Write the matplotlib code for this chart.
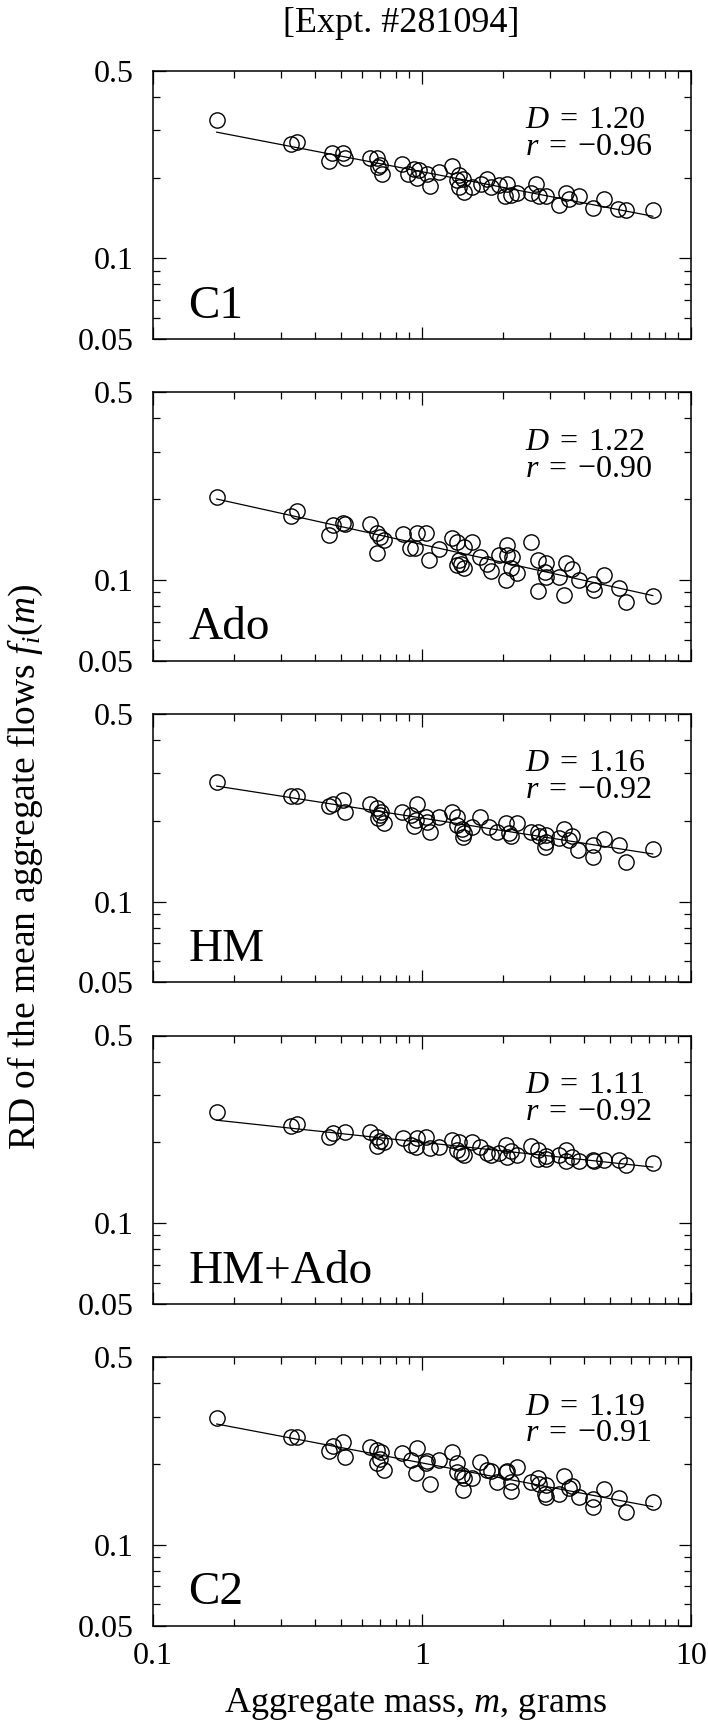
import numpy as np
import matplotlib
matplotlib.use('Agg')
import matplotlib.pyplot as plt

# Fonts: Times-like serif everywhere, italic math letters from the same family
plt.rcParams['font.family'] = ['Liberation Serif', 'DejaVu Serif']
plt.rcParams['mathtext.fontset'] = 'custom'
plt.rcParams['mathtext.rm'] = 'Liberation Serif'
plt.rcParams['mathtext.it'] = 'Liberation Serif:italic'

# ---- data (aggregate mass in grams, RD of mean flow) ----
c1_mass = [0.173, 0.327, 0.344, 0.464, 0.454, 0.510, 0.518, 0.645, 0.683, 0.699,
           0.689, 0.713, 0.846, 0.936, 0.891, 0.977, 0.962, 1.049, 1.073, 1.159,
           1.300, 1.376, 1.349, 1.428, 1.376, 1.436, 1.543, 1.657, 1.755, 1.806,
           1.940, 2.072, 2.036, 2.144, 2.270, 2.545, 2.657, 2.734, 2.895, 3.245,
           3.437, 3.536, 3.853, 4.319, 4.774, 5.353, 5.748, 7.228]
c1_rd = [0.328, 0.266, 0.272, 0.246, 0.231, 0.246, 0.236, 0.236, 0.236, 0.223,
         0.218, 0.207, 0.225, 0.216, 0.206, 0.213, 0.200, 0.206, 0.186, 0.210,
         0.221, 0.204, 0.195, 0.197, 0.185, 0.177, 0.185, 0.190, 0.197, 0.185,
         0.188, 0.190, 0.170, 0.172, 0.175, 0.175, 0.190, 0.170, 0.170, 0.158,
         0.175, 0.167, 0.170, 0.154, 0.167, 0.153, 0.151, 0.151]

ado_mass = [0.173, 0.327, 0.344, 0.468, 0.454, 0.510, 0.518, 0.645, 0.683, 0.701,
            0.723, 0.680, 0.851, 0.905, 0.948, 0.962, 1.034, 1.065, 1.159, 1.300,
            1.357, 1.436, 1.543, 1.376, 1.396, 1.357, 1.440, 1.648, 1.755, 1.806,
            1.940, 2.072, 2.072, 2.175, 2.144, 2.270, 2.054, 2.545, 2.695, 2.895,
            2.870, 2.895, 2.695, 3.245, 3.437, 3.608, 3.388, 3.853, 4.319, 4.380,
            4.774, 5.430, 5.748, 7.228]
ado_rd = [0.204, 0.173, 0.180, 0.160, 0.147, 0.163, 0.162, 0.161, 0.149, 0.145,
          0.141, 0.126, 0.148, 0.132, 0.131, 0.149, 0.150, 0.119, 0.130, 0.143,
          0.139, 0.133, 0.139, 0.119, 0.115, 0.114, 0.111, 0.122, 0.115, 0.108,
          0.124, 0.135, 0.124, 0.122, 0.111, 0.106, 0.100, 0.139, 0.119, 0.116,
          0.107, 0.103, 0.091, 0.103, 0.116, 0.110, 0.088, 0.100, 0.097, 0.092,
          0.104, 0.093, 0.083, 0.087]

hm_mass = [0.173, 0.327, 0.344, 0.454, 0.468, 0.510, 0.518, 0.645, 0.683, 0.699,
           0.703, 0.689, 0.723, 0.846, 0.909, 0.962, 0.949, 0.936, 1.034, 1.049,
           1.073, 1.159, 1.300, 1.357, 1.349, 1.416, 1.436, 1.428, 1.543, 1.648,
           1.780, 1.912, 2.054, 2.113, 2.144, 2.270, 2.545, 2.695, 2.734, 2.895,
           2.895, 2.870, 3.245, 3.388, 3.536, 3.608, 3.798, 4.319, 4.319, 4.774,
           5.430, 5.748, 7.228]
hm_rd = [0.280, 0.247, 0.247, 0.226, 0.231, 0.238, 0.216, 0.231, 0.223, 0.210,
         0.216, 0.204, 0.197, 0.216, 0.210, 0.231, 0.202, 0.191, 0.207, 0.198,
         0.181, 0.207, 0.216, 0.207, 0.193, 0.187, 0.180, 0.174, 0.189, 0.207,
         0.190, 0.182, 0.196, 0.180, 0.175, 0.196, 0.182, 0.181, 0.175, 0.177,
         0.167, 0.160, 0.172, 0.187, 0.170, 0.175, 0.156, 0.163, 0.147, 0.171,
         0.163, 0.141, 0.157]

hmado_mass = [0.173, 0.327, 0.344, 0.454, 0.468, 0.518, 0.645, 0.683, 0.699, 0.723,
              0.680, 0.851, 0.909, 0.949, 0.962, 1.034, 1.073, 1.159, 1.300, 1.357,
              1.376, 1.396, 1.436, 1.543, 1.648, 1.755, 1.806, 1.940, 2.054, 2.072,
              2.144, 2.270, 2.545, 2.695, 2.695, 2.895, 2.895, 3.245, 3.437, 3.437,
              3.608, 3.853, 4.319, 4.380, 4.774, 5.430, 5.748, 7.228]
hmado_rd = [0.260, 0.230, 0.235, 0.209, 0.216, 0.219, 0.219, 0.210, 0.203, 0.200,
            0.194, 0.207, 0.196, 0.192, 0.207, 0.209, 0.190, 0.193, 0.204, 0.187,
            0.200, 0.182, 0.179, 0.200, 0.193, 0.182, 0.179, 0.182, 0.196, 0.177,
            0.185, 0.179, 0.194, 0.187, 0.173, 0.178, 0.174, 0.179, 0.187, 0.170,
            0.177, 0.170, 0.172, 0.170, 0.172, 0.172, 0.165, 0.167]

c2_mass = [0.173, 0.327, 0.344, 0.454, 0.468, 0.510, 0.518, 0.645, 0.683, 0.703,
           0.683, 0.699, 0.723, 0.846, 0.909, 0.962, 0.949, 1.034, 1.049, 1.073,
           1.159, 1.300, 1.357, 1.349, 1.416, 1.436, 1.428, 1.543, 1.648, 1.755,
           1.806, 1.912, 2.054, 2.072, 2.144, 2.144, 2.270, 2.545, 2.695, 2.734,
           2.895, 2.870, 2.895, 3.245, 3.388, 3.536, 3.608, 3.853, 4.319, 4.319,
           4.774, 5.430, 5.748, 7.228]
c2_rd = [0.296, 0.251, 0.253, 0.223, 0.234, 0.242, 0.213, 0.232, 0.225, 0.222,
         0.201, 0.209, 0.190, 0.219, 0.207, 0.230, 0.185, 0.201, 0.205, 0.168,
         0.207, 0.221, 0.201, 0.186, 0.182, 0.178, 0.160, 0.178, 0.204, 0.190,
         0.188, 0.172, 0.187, 0.188, 0.171, 0.158, 0.195, 0.171, 0.177, 0.169,
         0.167, 0.154, 0.150, 0.154, 0.181, 0.163, 0.166, 0.151, 0.148, 0.138,
         0.161, 0.149, 0.133, 0.144]

panel_names = ['C1', 'Ado', 'HM', 'HM+Ado', 'C2']
panel_D = ['1.20', '1.22', '1.16', '1.11', '1.19']
panel_r = ['-0.96', '-0.90', '-0.92', '-0.92', '-0.91']
panel_mass = [c1_mass, ado_mass, hm_mass, hmado_mass, c2_mass]
panel_rd = [c1_rd, ado_rd, hm_rd, hmado_rd, c2_rd]


def draw_panel(ax, mass, rd, name, d_txt, r_txt, show_xlabels):
    mass = np.asarray(mass)
    rd = np.asarray(rd)
    ax.set_xscale('log')
    ax.set_yscale('log')

    # power-law fit in log-log space
    slope, icpt = np.polyfit(np.log10(mass), np.log10(rd), 1)
    xs = np.array([mass.min(), mass.max()])
    ax.plot(xs, 10 ** (icpt + slope * np.log10(xs)), color='black', lw=0.9, zorder=2)

    ax.plot(mass, rd, 'o', ms=11, mfc='none', mec='black', mew=1.0, zorder=3)

    ax.set_xlim(0.1, 10)
    ax.set_ylim(0.05, 0.5)

    ax.set_yticks([0.05, 0.1, 0.5])
    ax.set_yticklabels(['0.05', '0.1', '0.5'])
    ax.set_yticks([0.06, 0.07, 0.08, 0.09, 0.2, 0.3, 0.4], minor=True)
    ax.set_yticklabels([], minor=True)
    ax.set_xticks([0.1, 1, 10])
    ax.set_xticklabels(['0.1', '1', '10'] if show_xlabels else [])
    ax.set_xticks([k * d for d in (0.1, 1) for k in range(2, 10)], minor=True)
    ax.set_xticklabels([], minor=True)

    ax.tick_params(which='both', direction='in', top=True, right=True, width=0.9)
    ax.tick_params(which='major', length=9, labelsize=23)
    ax.tick_params(which='minor', length=5)
    ax.tick_params(axis='y', which='major', pad=14)
    ax.tick_params(axis='x', which='major', pad=12)
    for sp in ax.spines.values():
        sp.set_linewidth(1.1)

    # fit statistics, upper right ({-} keeps the minus sign unary)
    ax.text(0.692, 0.786, r'$D\;=\;' + d_txt + '$', transform=ax.transAxes,
            fontsize=23, ha='left', va='baseline')
    ax.text(0.692, 0.686, r'$r\;=\;{' + r_txt[0] + '}' + r_txt[1:] + '$',
            transform=ax.transAxes, fontsize=23, ha='left', va='baseline')
    ax.text(0.066, 0.08, name, transform=ax.transAxes, fontsize=34,
            ha='left', va='baseline')


W, H = 708, 1732
fig = plt.figure(figsize=(W / 100, H / 100), dpi=100)

ax_left, ax_w, ax_h = 152.7, 538.0, 268.5
first_top, pitch = 70.7, 321.6

for i in range(5):
    top = first_top + i * pitch
    ax = fig.add_axes([ax_left / W, 1 - (top + ax_h) / H, ax_w / W, ax_h / H])
    draw_panel(ax, panel_mass[i], panel_rd[i], panel_names[i],
               panel_D[i], panel_r[i], show_xlabels=(i == 4))

fig.text(400.8 / W, 1 - 31.7 / H, '[Expt. #281094]', fontsize=26,
         ha='center', va='baseline')
fig.text(415 / W, 1 - 1711.7 / H, r'Aggregate mass, $m$, grams', fontsize=26,
         ha='center', va='baseline')
fig.text(25 / W, 1 - 866.5 / H, r'RD of the mean aggregate flows $f_i(m)$',
         fontsize=27, rotation=90, ha='center', va='center')

fig.savefig('out.png', dpi=100)
